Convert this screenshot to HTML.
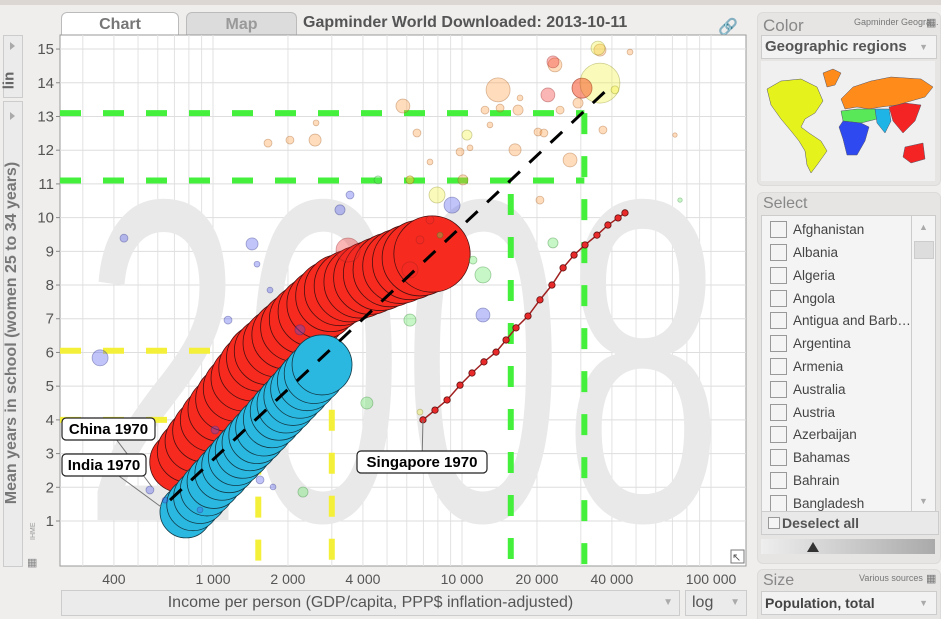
<!DOCTYPE html>
<html><head><meta charset="utf-8">
<style>
html,body{margin:0;width:941px;height:619px;overflow:hidden}
body{background:#efeeed;font-family:"Liberation Sans",sans-serif;position:relative}
.abs{position:absolute}
.panel{position:absolute;background:#e6e5e4;border-radius:6px;border:1px solid #dcdbda}
.ph{position:absolute;left:5px;font-size:17px;color:#888}
.cb{position:absolute;left:8px;width:15px;height:15px;border:1px solid #999;background:#f4f4f4}
.it{position:absolute;left:31px;font-size:13.5px;color:#444;white-space:nowrap;width:118px;overflow:hidden;text-overflow:ellipsis}
</style></head>
<body>
<div class="abs" style="left:0;top:0;width:941px;height:5px;background:#dcd7d2"></div>

<div class="abs" style="left:61px;top:12px;width:116px;height:24px;background:#fff;border:1px solid #bbb;border-bottom:none;border-radius:6px 6px 0 0;text-align:center;font-size:16px;font-weight:bold;color:#777;line-height:24px">Chart</div>
<div class="abs" style="left:186px;top:12px;width:109px;height:23px;background:#dcdcdc;border:1px solid #bbb;border-bottom:none;border-radius:6px 6px 0 0;text-align:center;font-size:16px;font-weight:bold;color:#999;line-height:24px">Map</div>
<div class="abs" style="left:303px;top:14px;font-size:16px;font-weight:bold;color:#555">Gapminder World Downloaded: 2013-10-11</div>
<div class="abs" style="left:718px;top:17px;font-size:16px;color:#888">&#128279;</div>

<div class="abs" style="left:3px;top:35px;width:18px;height:61px;border:1px solid #ccc;background:#ebebeb">
 <div style="position:absolute;left:6px;top:6px;width:0;height:0;border-left:5px solid #aaa;border-top:4px solid transparent;border-bottom:4px solid transparent"></div>
 <div style="position:absolute;left:-4px;top:36px;transform:rotate(-90deg);font-size:15px;font-weight:bold;color:#666">lin</div>
</div>
<div class="abs" style="left:3px;top:101px;width:18px;height:464px;border:1px solid #ccc;background:#ebebeb">
 <div style="position:absolute;left:6px;top:10px;width:0;height:0;border-left:5px solid #aaa;border-top:4px solid transparent;border-bottom:4px solid transparent"></div>
 <div style="position:absolute;left:-172px;top:222px;width:360px;text-align:center;transform:rotate(-90deg);font-size:16px;font-weight:bold;color:#777;white-space:nowrap">Mean years in school (women 25 to 34 years)</div>
</div>

<svg id="plot" class="abs" style="left:0;top:0" width="941" height="619">
</svg>

<div class="abs" style="left:61px;top:590px;width:617px;height:24px;background:#ebebeb;border:1px solid #ccc;text-align:center;font-size:16px;color:#555;line-height:24px"><span>Income per person (GDP/capita, PPP$ inflation-adjusted)</span><span style="position:absolute;right:6px;color:#aaa;font-size:10px">&#9660;</span></div>
<div class="abs" style="left:685px;top:590px;width:60px;height:24px;background:#ebebeb;border:1px solid #ccc;font-size:16px;color:#555;line-height:24px"><span style="margin-left:6px">log</span><span style="position:absolute;right:6px;color:#aaa;font-size:10px">&#9660;</span></div>

<!-- Color panel -->
<div class="panel" style="left:757px;top:12px;width:182px;height:172px">
 <div class="ph" style="top:3px">Color</div>
 <div class="abs" style="left:96px;top:4px;font-size:9px;color:#777;white-space:nowrap">Gapminder Geogra...</div>
 <div class="abs" style="left:168px;top:3px;font-size:11px;color:#777">&#9638;</div>
 <div class="abs" style="left:3px;top:22px;width:174px;height:22px;background:#f2f2f2;border:1px solid #ccc;font-size:15px;font-weight:bold;color:#555;line-height:22px"><span style="margin-left:3px">Geographic regions</span><span style="position:absolute;right:8px;color:#aaa;font-size:9px">&#9660;</span></div>
 <svg class="abs" style="left:3px;top:48px" width="174" height="120">
  <rect width="174" height="120" fill="#f0f0f0"/>
  <path d="M6 28 L20 20 L40 18 L56 26 L62 40 L54 52 L44 58 L40 66 L48 72 L60 80 L66 90 L56 104 L50 112 L46 104 L44 90 L38 80 L30 70 L20 58 L10 44 Z" fill="#e6f21c" stroke="#556" stroke-width="0.5"/>
  <path d="M62 12 L72 8 L80 12 L74 24 L66 26 Z" fill="#ff8c1a" stroke="#556" stroke-width="0.5"/>
  <path d="M80 38 L92 26 L110 20 L130 16 L160 18 L172 26 L164 36 L150 40 L136 44 L120 46 L108 48 L96 46 L84 48 Z" fill="#ff8c1a" stroke="#556" stroke-width="0.5"/>
  <path d="M80 50 L96 48 L114 48 L116 58 L100 62 L82 60 Z" fill="#58e858" stroke="#556" stroke-width="0.5"/>
  <path d="M82 60 L100 62 L108 66 L104 80 L96 94 L86 94 L82 78 L78 66 Z" fill="#2f49f0" stroke="#556" stroke-width="0.5"/>
  <path d="M114 48 L128 48 L130 60 L124 72 L116 62 Z" fill="#1fb4e6" stroke="#556" stroke-width="0.5"/>
  <path d="M128 46 L144 42 L160 44 L154 60 L142 72 L132 60 Z M144 86 L162 82 L164 98 L150 102 L142 96 Z" fill="#f52424" stroke="#556" stroke-width="0.5"/>
 </svg>
</div>

<!-- Select panel -->
<div class="panel" style="left:757px;top:192px;width:182px;height:370px">
 <div class="ph" style="top:2px;font-size:16px">Select</div>
 <div class="abs" style="left:3px;top:22px;width:152px;height:296px;background:#f4f4f4;border:1px solid #ccc;overflow:hidden">
  <div class="cb" style="top:5px"></div><div class="it" style="top:6px">Afghanistan</div>
  <div class="cb" style="top:28px"></div><div class="it" style="top:29px">Albania</div>
  <div class="cb" style="top:51px"></div><div class="it" style="top:52px">Algeria</div>
  <div class="cb" style="top:74px"></div><div class="it" style="top:75px">Angola</div>
  <div class="cb" style="top:96px"></div><div class="it" style="top:97px">Antigua and Barb…</div>
  <div class="cb" style="top:119px"></div><div class="it" style="top:120px">Argentina</div>
  <div class="cb" style="top:142px"></div><div class="it" style="top:143px">Armenia</div>
  <div class="cb" style="top:165px"></div><div class="it" style="top:166px">Australia</div>
  <div class="cb" style="top:188px"></div><div class="it" style="top:189px">Austria</div>
  <div class="cb" style="top:210px"></div><div class="it" style="top:211px">Azerbaijan</div>
  <div class="cb" style="top:233px"></div><div class="it" style="top:234px">Bahamas</div>
  <div class="cb" style="top:256px"></div><div class="it" style="top:257px">Bahrain</div>
  <div class="cb" style="top:279px"></div><div class="it" style="top:280px">Bangladesh</div>
 </div>
 <div class="abs" style="left:153px;top:22px;width:23px;height:296px;background:#f4f4f4;border:1px solid #ccc">
  <div style="position:absolute;left:7px;top:6px;color:#aaa;font-size:9px">&#9650;</div>
  <div style="position:absolute;left:2px;top:25px;width:18px;height:16px;background:#ddd;border:1px solid #ccc"></div>
  <div style="position:absolute;left:7px;top:280px;color:#aaa;font-size:9px">&#9660;</div>
 </div>
 <div class="abs" style="left:3px;top:318px;width:176px;height:22px;background:#e9e9e9;border:1px solid #ccc;font-size:14px;font-weight:bold;color:#555;line-height:22px"><span style="display:inline-block;width:10px;height:10px;border:1px solid #999;margin:0 2px 0 6px;vertical-align:-1px;background:#f4f4f4"></span>Deselect all</div>
 <div class="abs" style="left:3px;top:346px;width:174px;height:15px;background:linear-gradient(to right,#eee,#aaa)">
  <div style="position:absolute;left:46px;top:3px;width:0;height:0;border-left:6px solid transparent;border-right:6px solid transparent;border-bottom:10px solid #333"></div>
 </div>
</div>

<!-- Size panel -->
<div class="panel" style="left:757px;top:569px;width:182px;height:60px">
 <div class="ph" style="top:2px;font-size:16px">Size</div>
 <div class="abs" style="left:101px;top:3px;font-size:9px;color:#777">Various sources</div>
 <div class="abs" style="left:168px;top:2px;font-size:11px;color:#777">&#9638;</div>
 <div class="abs" style="left:3px;top:21px;width:174px;height:22px;background:#f2f2f2;border:1px solid #ccc;font-size:14px;font-weight:bold;color:#444;line-height:22px"><span style="margin-left:3px">Population, total</span><span style="position:absolute;right:8px;color:#aaa;font-size:9px">&#9660;</span></div>
</div>

<script>
// ---- data ----
const yTicks = [1,2,3,4,5,6,7,8,9,10,11,12,13,14,15];
const xTickValues = [400,1000,2000,4000,10000,20000,40000,100000];
const xTickLabels = ["400","1 000","2 000","4 000","10 000","20 000","40 000","100 000"];
const chinaIncome = [737,793,855,920,991,1067,1149,1237,1332,1434,1544,1663,1807,1965,2135,2320,2521,2741,2979,3236,3550,3894,4271,4686,5139,5636,6183,6782,7578];
const chinaYears  = [2.75,3.06,3.37,3.68,4.00,4.31,4.62,4.93,5.24,5.55,5.84,6.04,6.28,6.52,6.75,6.98,7.21,7.44,7.67,7.85,7.97,8.09,8.21,8.33,8.45,8.56,8.68,8.80,8.92];
const chinaPop    = [830,850,870,890,910,930,950,970,985,1000,1015,1030,1045,1060,1075,1090,1105,1120,1135,1150,1165,1180,1200,1220,1240,1260,1280,1300,1320];
const indiaIncome = [779,831,887,946,1009,1087,1160,1237,1320,1408,1502,1603,1725,1841,1965,2096,2236,2386,2545,2741];
const indiaYears  = [1.27,1.49,1.71,1.94,2.17,2.42,2.65,2.87,3.09,3.32,3.54,3.77,4.02,4.25,4.47,4.70,4.92,5.15,5.37,5.63];
const indiaPop    = [613,623,634,644,655,666,676,687,698,708,719,730,740,751,762,772,783,794,805,816];
const singIncome = [6970,7790,8710,9820,10970,12250,13700,15030,16480,18410,20560,22970,25470,28180,31190,34830,38550,42340,45140];
const singYears  = [4.00,4.29,4.59,5.03,5.39,5.72,6.01,6.37,6.73,7.08,7.56,8.00,8.51,8.89,9.19,9.48,9.78,9.99,10.14];
const trendIncome = [672,40000];
const trendYears  = [1.62,13.93];
// background bubbles (2008): income, years, population (millions), region
const bgIncome = [1663,2037,2570,2594,5790,6180,6594,7437,9820,10090,10770,12950,14220,16790,17100,20190,21330,27160,30340,35810,36810,29240,24770,23620,13960,12370,16330,20560,47280,71680,
 35810,35160,41140,7937,10470,6180,6780,
 4600,12140,23190,4150,11070,2298,6180,8160,75090,
 439,352,1435,1502,1149,2235,1694,3236,3550,9120,12140,887,1545,1742,1019,558,642,
 3486,6180,6780,22130,23190,30340,7437];
const bgYears = [12.21,12.30,12.30,12.81,13.31,11.12,12.51,11.65,11.95,11.12,12.07,12.75,13.25,13.19,13.55,12.54,12.51,11.71,13.84,14.97,12.60,13.40,13.19,14.53,13.79,13.19,12.01,10.52,14.91,12.45,
 13.99,15.03,13.79,10.67,12.45,11.12,4.23,
 11.12,8.30,9.25,4.50,8.74,1.86,6.96,9.48,10.52,
 9.39,5.84,9.22,8.62,6.96,6.67,7.85,10.23,10.67,10.37,7.11,1.33,2.22,2.01,3.70,1.92,1.62,
 9.04,8.45,9.34,13.64,14.62,13.84,9.93];
const bgPop = [13,13,30,7,40,13,13,7,13,21,7,7,13,21,7,13,13,40,83,30,13,21,13,40,119,13,30,13,7,4,
 330,40,13,53,21,13,7,
 13,53,21,30,13,21,30,7,4,
 13,53,30,7,13,21,7,21,13,53,40,7,13,7,13,13,7,
 119,53,13,40,30,83,13];
const bgRegion = [2,2,2,2,2,2,2,2,2,2,2,2,2,2,2,2,2,2,2,2,2,2,2,2,2,2,2,2,2,2,
 1,1,1,1,1,1,1,
 5,5,5,5,5,5,5,5,5,
 0,0,0,0,0,0,0,0,0,0,0,0,0,0,0,0,0,
 3,3,3,3,3,3,3];
const regionFill = ["#4a55ee","#f0f03a","#ff9a40","#f22a2a","#2ab6e2","#5ee85e"];
const regionStroke = ["#2a2f80","#888820","#a05a20","#902020","#1a6a80","#2a802a"];

// ---- scales ----
const PL=60, PR=746, PT=35, PB=566;
const xs = v => 213 + 249*Math.log10(v/1000);
const ys = v => 521 - (v-1)*33.71;
const rs = p => Math.sqrt(p)*1.05;
const rb = p => Math.sqrt(p)*1.1;
const NS="http://www.w3.org/2000/svg";
const svg=document.getElementById('plot');
function mk(tag,attrs,parent){const e=document.createElementNS(NS,tag);for(const k in attrs)e.setAttribute(k,attrs[k]);(parent||svg).appendChild(e);return e;}

const bg=mk('rect',{x:PL,y:PT,width:PR-PL,height:PB-PT,fill:'#fff',stroke:'#999'});


const clip=mk('clipPath',{id:'pc'});mk('rect',{x:PL,y:PT,width:PR-PL,height:PB-PT},clip);
const g=mk('g',{'clip-path':'url(#pc)'});

// grid
for(let d=100;d<=100000;d*=10){for(let m=1;m<10;m++){const v=d*m;const x=xs(v);if(x>PL&&x<PR){const l=mk('line',{x1:x,x2:x,y1:PT,y2:PB,stroke:'#e2e2e2','stroke-width':1},g);}}}
yTicks.forEach(t=>{const l=mk('line',{x1:PL,x2:PR,y1:ys(t),y2:ys(t),stroke:'#dedede'},g);});

// year watermark
const yr=mk('text',{x:83,y:520,'font-size':460,fill:'#e9e9e9','font-family':'Liberation Sans, sans-serif',textLength:640,lengthAdjust:'spacingAndGlyphs'},g);
yr.textContent='2008';



// reference dashed lines
function dl(x1,y1,x2,y2,c,name){const l=mk('line',{x1,y1,x2,y2,stroke:c,'stroke-width':6,'stroke-dasharray':'21 22'},g);}
dl(PL,ys(13.1),xs(31000),ys(13.1),'#44f03c','green-guide-h-high');
dl(PL,ys(11.1),xs(31000),ys(11.1),'#44f03c','green-guide-h-low');
dl(xs(15700),ys(10.7),xs(15700),PB,'#44f03c','green-guide-v-left');
dl(xs(31000),ys(13.1),xs(31000),PB,'#44f03c','green-guide-v-right');
dl(PL,ys(6.05),xs(2700),ys(6.05),'#f4f03a','yellow-guide-h-high');
dl(PL,ys(4.0),xs(1350),ys(4.0),'#f4f03a','yellow-guide-h-low');
dl(xs(1520),ys(3.0),xs(1520),PB,'#f4f03a','yellow-guide-v-left');
dl(xs(3000),ys(4.3),xs(3000),PB,'#f4f03a','yellow-guide-v-right');

// trails
chinaIncome.forEach((v,i)=>{const c=mk('circle',{cx:xs(v),cy:ys(chinaYears[i]),r:rs(chinaPop[i]),fill:'#f62a1e',stroke:'#4a1010','stroke-width':0.8},g);});
indiaIncome.forEach((v,i)=>{const c=mk('circle',{cx:xs(v),cy:ys(indiaYears[i]),r:rs(indiaPop[i]),fill:'#2bb8e0',stroke:'#123a48','stroke-width':0.8},g);});

// background bubbles
bgIncome.forEach((v,i)=>{const c=mk('circle',{cx:xs(v),cy:ys(bgYears[i]),r:rb(bgPop[i]),fill:regionFill[bgRegion[i]],'fill-opacity':0.35,stroke:regionStroke[bgRegion[i]],'stroke-opacity':0.4,'stroke-width':0.8},g);});

// singapore trail
const sp=mk('polyline',{points:singIncome.map((v,i)=>xs(v)+','+ys(singYears[i])).join(' '),fill:'none',stroke:'#a02020','stroke-width':1.5},g);


singIncome.forEach((v,i)=>{const c=mk('circle',{cx:xs(v),cy:ys(singYears[i]),r:3.2,fill:'#e82a2a',stroke:'#601010','stroke-width':0.8},g);});

// trend line
const tl=mk('line',{x1:xs(trendIncome[0]),y1:ys(trendYears[0]),x2:xs(trendIncome[1]),y2:ys(trendYears[1]),stroke:'#000','stroke-width':3,'stroke-dasharray':'16 13'},g);



// labels
function lab(text,x,y,w,lx,ly,name){
 mk('line',{x1:lx,y1:ly,x2:x+w/2,y2:y+11,stroke:'#777'},g);
 const r=mk('rect',{x,y,width:w,height:22,rx:4,fill:'#fff',stroke:'#222','stroke-width':1.2},g);
 
 
 const t=mk('text',{x:x+w/2,y:y+16,'text-anchor':'middle','font-size':15,'font-weight':'bold','font-family':'Liberation Sans, sans-serif',fill:'#000'},g);t.textContent=text;
}
lab('China 1970',62,418,93,xs(chinaIncome[0])-28,ys(chinaYears[0])+25,'china-1970-label');
lab('India 1970',62,454,84,xs(indiaIncome[0])-25,ys(indiaYears[0])-5,'india-1970-label');
lab('Singapore 1970',357,451,130,xs(singIncome[0]),ys(singYears[0]),'singapore-1970-label');

const ex=mk('rect',{x:731,y:550,width:13,height:13,fill:'#fff',stroke:'#777'});


mk('text',{x:732,y:561,'font-size':11,fill:'#555'}).textContent='↖';

// axes ticks
yTicks.forEach(t=>{const tx=mk('text',{x:54,y:ys(t)+5,'text-anchor':'end','font-size':15,fill:'#555','font-family':'Liberation Sans, sans-serif'});tx.textContent=t;mk('line',{x1:56,x2:PL,y1:ys(t),y2:ys(t),stroke:'#888'});});
xTickValues.forEach((v,i)=>{const tx=mk('text',{x:xs(v),y:584,'text-anchor':'middle','font-size':14,fill:'#555','font-family':'Liberation Sans, sans-serif'});tx.textContent=xTickLabels[i];});
const ih=mk('text',{x:0,y:0,'font-size':7,fill:'#999',transform:'translate(35,540) rotate(-90)'});ih.textContent='IHME';
mk('text',{x:27,y:566,'font-size':11,fill:'#888'}).textContent='▦';
</script>
</body></html>
